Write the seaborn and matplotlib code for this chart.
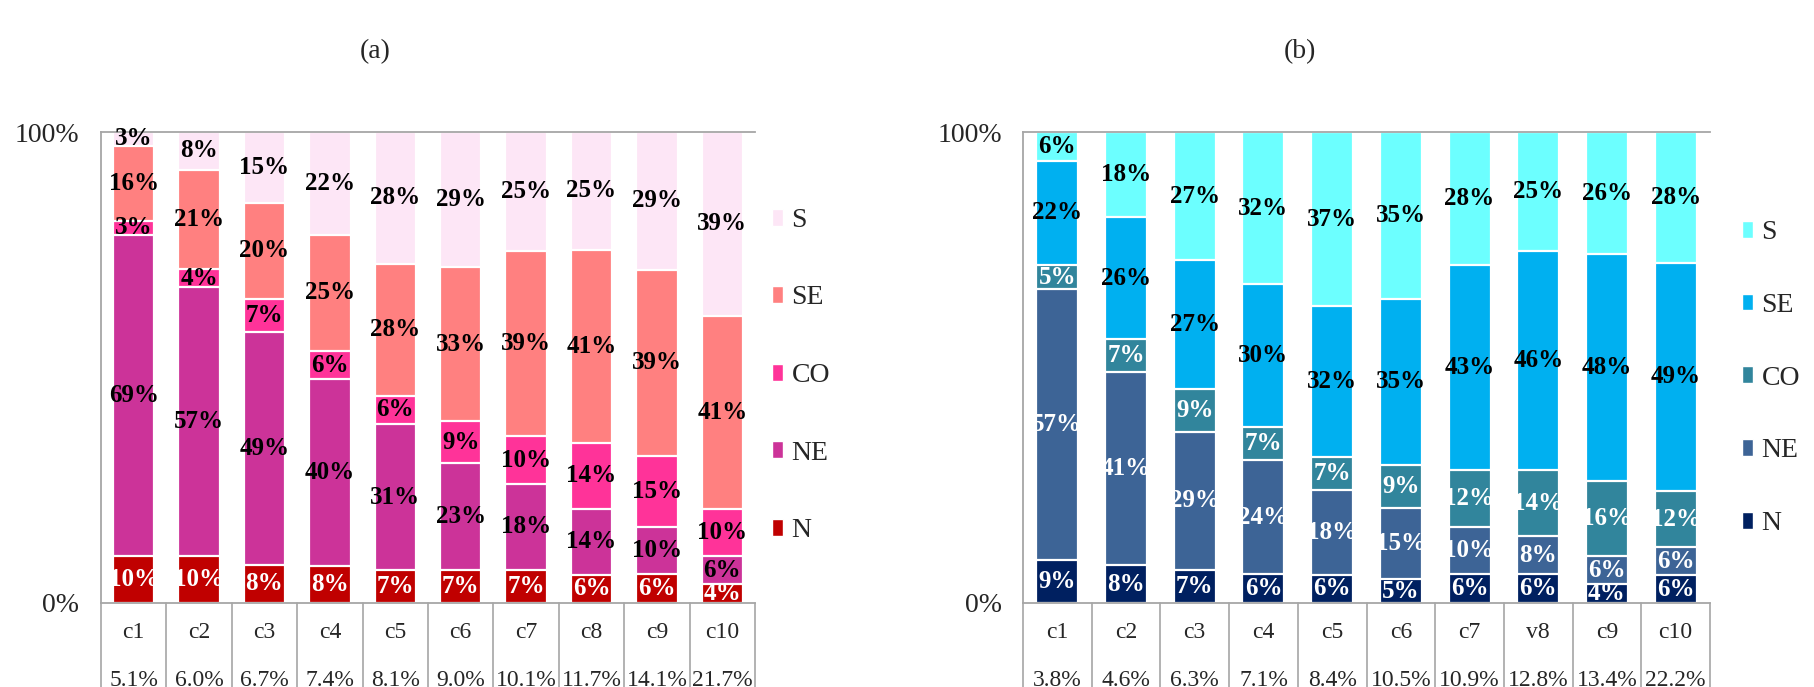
import numpy as np
import pandas as pd
import matplotlib
matplotlib.use("Agg")
import matplotlib.pyplot as plt
from matplotlib.patches import Patch
import seaborn as sns

# ---- datos ----
regions = ["N", "NE", "CO", "SE", "S"]

cats_a = ["c1", "c2", "c3", "c4", "c5", "c6", "c7", "c8", "c9", "c10"]
share_a = ["5.1%", "6.0%", "6.7%", "7.4%", "8.1%", "9.0%", "10.1%", "11.7%", "14.1%", "21.7%"]
n_a = [10, 10, 8, 8, 7, 7, 7, 6, 6, 4]
ne_a = [69, 57, 49, 40, 31, 23, 18, 14, 10, 6]
co_a = [3, 4, 7, 6, 6, 9, 10, 14, 15, 10]
se_a = [16, 21, 20, 25, 28, 33, 39, 41, 39, 41]
s_a = [3, 8, 15, 22, 28, 29, 25, 25, 29, 39]

cats_b = ["c1", "c2", "c3", "c4", "c5", "c6", "c7", "v8", "c9", "c10"]
share_b = ["3.8%", "4.6%", "6.3%", "7.1%", "8.4%", "10.5%", "10.9%", "12.8%", "13.4%", "22.2%"]
n_b = [9, 8, 7, 6, 6, 5, 6, 6, 4, 6]
ne_b = [57, 41, 29, 24, 18, 15, 10, 8, 6, 6]
co_b = [5, 7, 9, 7, 7, 9, 12, 14, 16, 12]
se_b = [22, 26, 27, 30, 32, 35, 43, 46, 48, 49]
s_b = [6, 18, 27, 32, 37, 35, 28, 25, 26, 28]

colors_a = {"N": "#C00000", "NE": "#CC3399", "CO": "#FF3399", "SE": "#FF8080", "S": "#FDE6F6"}
text_a = {"N": "white", "NE": "black", "CO": "black", "SE": "black", "S": "black"}
colors_b = {"N": "#002060", "NE": "#3D6496", "CO": "#31859C", "SE": "#00B0F0", "S": "#6CFFFF"}
text_b = {"N": "white", "NE": "white", "CO": "white", "SE": "black", "S": "black"}

sns.set_style("white")
plt.rcParams["font.family"] = ["Liberation Serif", "DejaVu Serif"]

W, H = 1814, 687
fig = plt.figure(figsize=(W / 100, H / 100), dpi=100)
GRID = "#A6A6A6"
FS_BIG = 20   # ejes, leyenda, titulos
FS_BAR = 18   # etiquetas de barras
FS_TAB = 17   # tabla inferior


def px_axes(x0, x1, y_top, y_bot):
    return fig.add_axes([x0 / W, 1 - y_bot / H, (x1 - x0) / W, (y_bot - y_top) / H])


def draw_panel(ax, cats, shares, series, colors, txt_colors, bar_w, ypad):
    df = pd.DataFrame(dict(zip(regions, series)), index=cats)
    pct = df.div(df.sum(axis=1), axis=0) * 100
    cum = pct.cumsum(axis=1)

    # barras apiladas: se dibuja el acumulado de arriba hacia abajo
    for reg in reversed(regions):
        sns.barplot(x=cats, y=cum[reg].values, color=colors[reg], saturation=1,
                    width=bar_w, edgecolor="white", linewidth=1.6, ax=ax)

    for i, cat in enumerate(cats):
        for reg in regions:
            y = cum.loc[cat, reg] - pct.loc[cat, reg] / 2
            ax.text(i, y, f"{df.loc[cat, reg]}%", ha="center", va="center",
                    fontsize=FS_BAR, fontweight="bold", color=txt_colors[reg])

    ax.set_xlim(-0.5, len(cats) - 0.5)
    ax.set_ylim(0, 100)
    ax.set_xticks([])
    ax.set_xlabel("")
    ax.set_ylabel("")
    ax.set_yticks([0, 100])
    ax.set_yticklabels(["0%", "100%"])
    ax.tick_params(axis="y", length=0, pad=ypad, labelsize=FS_BIG)
    for side in ["top", "left", "bottom"]:
        ax.spines[side].set_color(GRID)
        ax.spines[side].set_linewidth(1.3)
    ax.spines["right"].set_visible(False)

    # tabla de etiquetas bajo el eje (la segunda fila queda cortada, como en el original)
    trans = ax.get_xaxis_transform()
    for k in range(len(cats) + 1):
        ax.plot([k - 0.5, k - 0.5], [0, -0.2], color=GRID, lw=1.2,
                transform=trans, clip_on=False)
    for i, (cat, sh) in enumerate(zip(cats, shares)):
        ax.text(i, -0.062, cat, ha="center", va="center", fontsize=FS_TAB, transform=trans)
        ax.text(i, -0.165, sh, ha="center", va="center", fontsize=FS_TAB, transform=trans)


ax_a = px_axes(101, 755, 132, 603)
draw_panel(ax_a, cats_a, share_a, [n_a, ne_a, co_a, se_a, s_a], colors_a, text_a, 0.63, 16)

ax_b = px_axes(1023, 1710, 132, 603)
draw_panel(ax_b, cats_b, share_b, [n_b, ne_b, co_b, se_b, s_b], colors_b, text_b, 0.61, 15)

fig.text(375 / W, 1 - 52 / H, "(a)", ha="center", va="center", fontsize=FS_BIG)
fig.text(1300 / W, 1 - 52 / H, "(b)", ha="center", va="center", fontsize=FS_BIG)

for colors, x0, y0, spacing in [(colors_a, 772, 208, 1.89), (colors_b, 1742, 220, 1.72)]:
    handles = [Patch(facecolor=colors[r], edgecolor="white") for r in reversed(regions)]
    fig.legend(handles, list(reversed(regions)), loc="upper left",
               bbox_to_anchor=(x0 / W, 1 - y0 / H), frameon=False, fontsize=FS_BIG,
               handlelength=0.4, handleheight=0.55, handletextpad=0.3,
               labelspacing=spacing, borderaxespad=0, borderpad=0)

fig.savefig("out.png", dpi=100)
